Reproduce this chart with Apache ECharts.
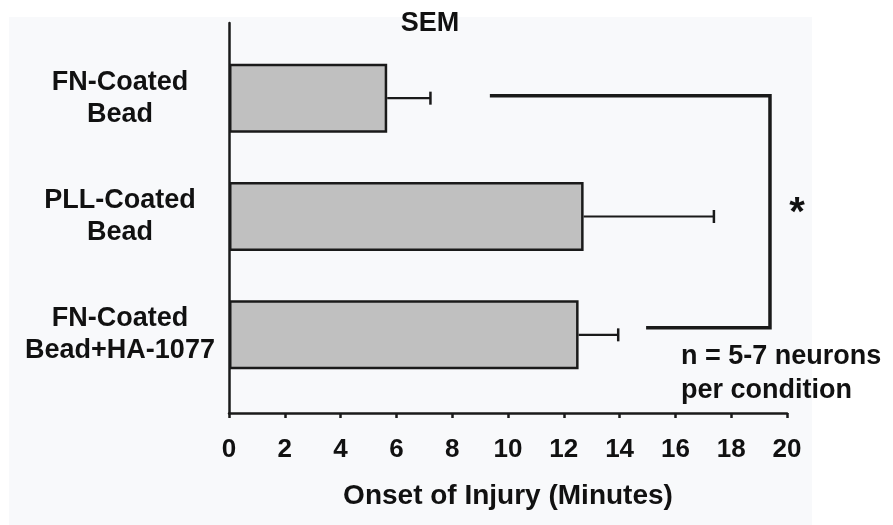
<!DOCTYPE html>
<html>
<head>
<meta charset="utf-8">
<script src="https://cdn.jsdelivr.net/npm/echarts@6/dist/echarts.min.js"></script>
<style>html,body{margin:0;padding:0;background:#fff;}#c{width:893px;height:525px;}</style>
</head>
<body>
<div id="c"></div>
<script>
// Data
const categories = ['FN-Coated\nBead', 'PLL-Coated\nBead', 'FN-Coated\nBead+HA-1077'];
const means = [5.67, 12.71, 12.53];
const sems = [1.55, 4.67, 1.42];
const xMin = 0, xMax = 20, xInterval = 2;
const bracketX = [9.35, 19.39, 14.95]; // top start, vertical, bottom start (minutes)
const bracketCats = [0, 2];

const FONT = '"Liberation Sans", Arial, Helvetica, sans-serif';
const INK = '#1a1a1a';
const TXT = '#111111';

const chart = echarts.init(document.getElementById('c'), null, {renderer: 'canvas'});

const errData = means.map((m, i) => [i, m, m + sems[i]]);

chart.setOption({
  backgroundColor: '#ffffff',
  animation: false,
  graphic: [
    {type: 'rect', z: -100, shape: {x: 9, y: 17, width: 803, height: 520}, style: {fill: '#f8f9fb'}},
    {type: 'text', x: 430, y: 24, style: {text: 'SEM', font: 'bold 27px ' + FONT, fill: TXT, align: 'center', verticalAlign: 'middle'}},
    {type: 'text', x: 797, y: 214, style: {text: '*', font: 'bold 40px ' + FONT, fill: TXT, align: 'center', verticalAlign: 'middle'}},
    {type: 'text', x: 681, y: 357, style: {text: 'n = 5-7 neurons', font: 'bold 27px ' + FONT, fill: TXT, align: 'left', verticalAlign: 'middle'}},
    {type: 'text', x: 681, y: 391, style: {text: 'per condition', font: 'bold 27px ' + FONT, fill: TXT, align: 'left', verticalAlign: 'middle'}}
  ],
  grid: [
    {left: 229, right: 106, top: 23, bottom: 112, outerBoundsMode: 'none', containLabel: false},
    {left: 229, right: 106, top: 39, height: 355, outerBoundsMode: 'none', containLabel: false}
  ],
  xAxis: [
    {
      gridIndex: 0, type: 'value', min: xMin, max: xMax, interval: xInterval,
      axisLine: {show: true, onZero: false, lineStyle: {color: INK, width: 2.5}},
      axisTick: {show: true, length: 5, lineStyle: {color: INK, width: 2.5}},
      axisLabel: {fontSize: 26, fontWeight: 'bold', color: TXT, margin: 24, fontFamily: FONT},
      splitLine: {show: false},
      name: 'Onset of Injury (Minutes)', nameLocation: 'middle', nameGap: 69,
      nameTextStyle: {fontSize: 28, fontWeight: 'bold', color: TXT, fontFamily: FONT}
    },
    {gridIndex: 1, type: 'value', min: xMin, max: xMax, show: false}
  ],
  yAxis: [
    {
      gridIndex: 0, type: 'value', min: 0, max: 1,
      axisLine: {show: true, onZero: false, lineStyle: {color: INK, width: 2.5}},
      axisTick: {show: false}, axisLabel: {show: false}, splitLine: {show: false}
    },
    {
      gridIndex: 1, type: 'category', inverse: true, data: categories,
      axisLine: {show: false}, axisTick: {show: false}, splitLine: {show: false},
      axisLabel: {fontSize: 27, fontWeight: 'bold', color: TXT, fontFamily: FONT, lineHeight: 32,
        align: 'center', margin: 109, padding: [7, 0, 0, 0]}
    }
  ],
  series: [
    {
      type: 'bar', xAxisIndex: 1, yAxisIndex: 1, data: means, barWidth: 69,
      itemStyle: {color: '#c0c0c0', borderColor: INK, borderWidth: 2.5}, z: 2
    },
    {
      type: 'custom', xAxisIndex: 1, yAxisIndex: 1, data: errData,
      encode: {x: [1, 2], y: 0}, z: 3,
      renderItem: function (params, api) {
        const i = api.value(0);
        const s = api.coord([api.value(1), i]);
        const e = api.coord([api.value(2), i]);
        return {type: 'group', children: [
          {type: 'line', shape: {x1: s[0], y1: s[1], x2: e[0], y2: e[1]}, style: {stroke: INK, lineWidth: 2.2}},
          {type: 'line', shape: {x1: e[0], y1: e[1] - 6.5, x2: e[0], y2: e[1] + 6.5}, style: {stroke: INK, lineWidth: 2.5}}
        ]};
      }
    },
    {
      type: 'custom', xAxisIndex: 1, yAxisIndex: 1, data: [[bracketX[0], bracketCats[0]]],
      encode: {x: 0, y: 1}, z: 3,
      renderItem: function (params, api) {
        const a = api.coord([bracketX[0], bracketCats[0]]);
        const b = api.coord([bracketX[1], bracketCats[0]]);
        const c = api.coord([bracketX[1], bracketCats[1]]);
        const d = api.coord([bracketX[2], bracketCats[1]]);
        return {type: 'polyline', shape: {points: [[a[0], a[1] - 2.5], [b[0], b[1] - 2.5], [c[0], c[1] - 7], [d[0], d[1] - 7]]},
          style: {stroke: INK, lineWidth: 3.5, fill: null, lineJoin: 'miter'}};
      }
    }
  ]
});
</script>
</body>
</html>
